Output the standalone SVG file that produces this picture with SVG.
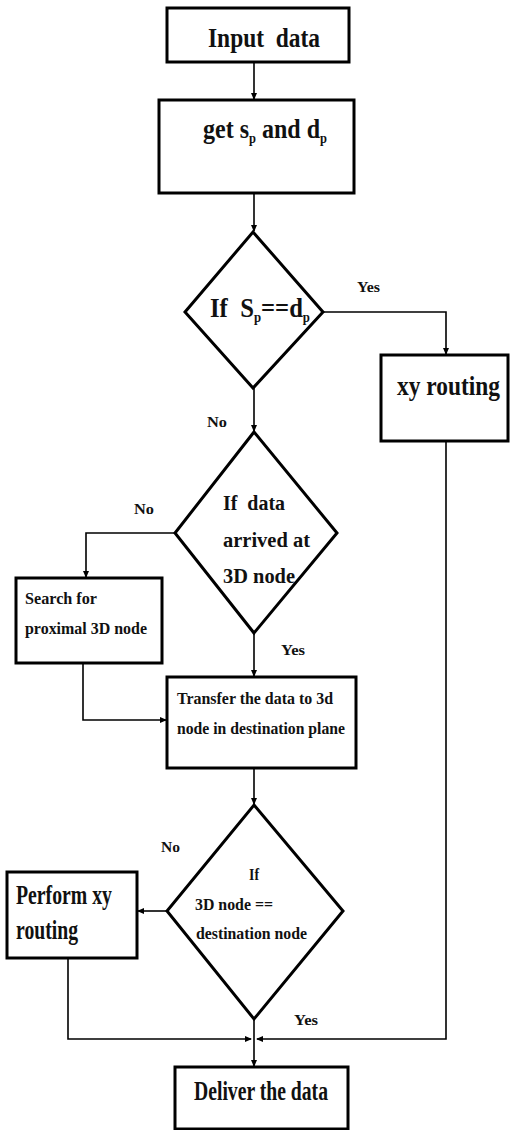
<svg xmlns="http://www.w3.org/2000/svg" width="518" height="1130" viewBox="0 0 518 1130">
  <style>
    .box { fill: #ffffff; stroke: #000000; stroke-width: 3; }
    .dec { fill: #ffffff; stroke: #000000; stroke-width: 3; stroke-linejoin: miter; }
    .wire { fill: none; stroke: #000000; stroke-width: 1.6; }
    text { font-family: "Liberation Serif", "Times New Roman", serif; font-weight: bold; fill: #111111; white-space: pre; }
    .big { font-size: 27px; }
    .mid { font-size: 20px; }
    .small { font-size: 16px; }
    .lbl { font-size: 15px; }
  </style>
  <defs>
    <marker id="arrow" markerWidth="7" markerHeight="7" refX="6" refY="3.5" orient="auto" markerUnits="userSpaceOnUse">
      <path d="M0,0.5 L7,3.5 L0,6.5 Z" fill="#000000"/>
    </marker>
  </defs>

  <rect width="518" height="1130" fill="#ffffff"/>

  <!-- connectors -->
  <g id="connectors">
    <path class="wire" d="M254,62 L254,99" marker-end="url(#arrow)"/>
    <path class="wire" d="M254,193 L254,231" marker-end="url(#arrow)"/>
    <path class="wire" d="M323,312 L446,312 L446,354" marker-end="url(#arrow)"/>
    <path class="wire" d="M254,388 L254,431" marker-end="url(#arrow)"/>
    <path class="wire" d="M175,533 L86,533 L86,577" marker-end="url(#arrow)"/>
    <path class="wire" d="M254,633 L254,676" marker-end="url(#arrow)"/>
    <path class="wire" d="M83,663 L83,720 L166,720" marker-end="url(#arrow)"/>
    <path class="wire" d="M254,768 L254,804" marker-end="url(#arrow)"/>
    <path class="wire" d="M167,911 L138,911" marker-end="url(#arrow)"/>
    <path class="wire" d="M68,958 L68,1039 L251,1039" marker-end="url(#arrow)"/>
    <path class="wire" d="M446,441 L446,1039 L257,1039" marker-end="url(#arrow)"/>
    <path class="wire" d="M254,1019 L254,1066" marker-end="url(#arrow)"/>
  </g>

  <!-- edge labels -->
  <g id="edge-labels">
    <text class="lbl" x="357" y="292" textLength="23" lengthAdjust="spacingAndGlyphs">Yes</text>
    <text class="lbl" x="207" y="427" textLength="20" lengthAdjust="spacingAndGlyphs">No</text>
    <text class="lbl" x="134" y="514" textLength="20" lengthAdjust="spacingAndGlyphs">No</text>
    <text class="lbl" x="281" y="655" textLength="24" lengthAdjust="spacingAndGlyphs">Yes</text>
    <text class="lbl" x="161" y="852" textLength="19" lengthAdjust="spacingAndGlyphs">No</text>
    <text class="lbl" x="294" y="1025" textLength="24" lengthAdjust="spacingAndGlyphs">Yes</text>
  </g>

  <!-- start -->
  <g id="input-data">
    <rect class="box" x="167" y="8" width="182" height="54"/>
    <text class="big" x="208" y="47" font-size="28" textLength="112" lengthAdjust="spacingAndGlyphs">Input&#160; data</text>
  </g>

  <g id="get-sp-dp">
    <rect class="box" x="159" y="100" width="195" height="93"/>
    <text class="big" x="203" y="138" font-size="26" textLength="124" lengthAdjust="spacingAndGlyphs">get s<tspan font-size="14" dy="5">p</tspan><tspan dy="-5"> and d</tspan><tspan font-size="14" dy="5">p</tspan></text>
  </g>

  <g id="decision-plane">
    <polygon class="dec" points="253,232 323,312 253,388 185,312"/>
    <text class="big" x="210" y="317" font-size="25" textLength="100" lengthAdjust="spacingAndGlyphs">If&#160; S<tspan font-size="14" dy="5">p</tspan><tspan dy="-5">==d</tspan><tspan font-size="14" dy="5">p</tspan></text>
  </g>

  <g id="xy-routing">
    <rect class="box" x="381" y="355" width="127" height="86"/>
    <text class="big" x="397" y="395" textLength="103" lengthAdjust="spacingAndGlyphs">xy routing</text>
  </g>

  <g id="decision-arrived">
    <polygon class="dec" points="254,432 337,533 254,633 175,533"/>
    <text class="mid" x="223" y="510" textLength="62" lengthAdjust="spacingAndGlyphs">If&#160; data</text>
    <text class="mid" x="223" y="547" textLength="87" lengthAdjust="spacingAndGlyphs">arrived at</text>
    <text class="mid" x="223" y="583" textLength="72" lengthAdjust="spacingAndGlyphs">3D node</text>
  </g>

  <g id="search-proximal">
    <rect class="box" x="16" y="578" width="146" height="85"/>
    <text class="small" x="25" y="604" textLength="72" lengthAdjust="spacingAndGlyphs">Search for</text>
    <text class="small" x="25" y="634" textLength="122" lengthAdjust="spacingAndGlyphs">proximal 3D node</text>
  </g>

  <g id="transfer-data">
    <rect class="box" x="167" y="677" width="189" height="91"/>
    <text class="small" x="177" y="704" textLength="156" lengthAdjust="spacingAndGlyphs">Transfer the data to 3d</text>
    <text class="small" x="177" y="734" textLength="168" lengthAdjust="spacingAndGlyphs">node in destination plane</text>
  </g>

  <g id="decision-destination">
    <polygon class="dec" points="254,805 343,911 254,1019 167,911"/>
    <text class="small" x="249" y="880" textLength="10" lengthAdjust="spacingAndGlyphs">If</text>
    <text class="small" x="195" y="910" textLength="78" lengthAdjust="spacingAndGlyphs">3D node ==</text>
    <text class="small" x="196" y="939" textLength="111" lengthAdjust="spacingAndGlyphs">destination node</text>
  </g>

  <g id="perform-xy">
    <rect class="box" x="7" y="872" width="130" height="86"/>
    <text class="big" x="16" y="904" font-size="25" textLength="96" lengthAdjust="spacingAndGlyphs">Perform xy</text>
    <text class="big" x="16" y="939" font-size="25" textLength="62" lengthAdjust="spacingAndGlyphs">routing</text>
  </g>

  <g id="deliver-data">
    <rect class="box" x="175" y="1067" width="173" height="62"/>
    <text class="big" x="194" y="1100" font-size="24" textLength="134" lengthAdjust="spacingAndGlyphs">Deliver the data</text>
  </g>
</svg>
